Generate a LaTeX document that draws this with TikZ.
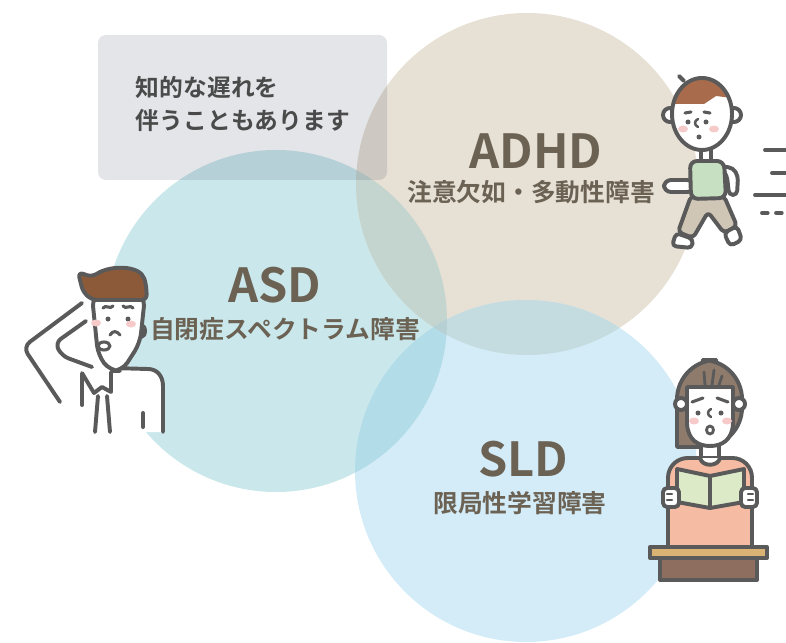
\documentclass[tikz,border=0pt]{standalone}
\usepackage{fontspec}
\setmainfont{Noto Sans CJK JP}[BoldFont=* Bold]

\definecolor{asdC}{HTML}{CAE8EC}
\definecolor{adhdC}{HTML}{E6E0D5}
\definecolor{sldC}{HTML}{D3ECF8}
\definecolor{asdadhdC}{HTML}{C4D5D0}
\definecolor{adhdsldC}{HTML}{C4DBDF}
\definecolor{asdsldC}{HTML}{B2DCE8}
\definecolor{allC}{HTML}{B6D0D4}
\definecolor{boxC}{HTML}{1E2640}
\definecolor{titleC}{HTML}{6B6254}
\definecolor{noteC}{HTML}{4A4A4A}
\definecolor{lineC}{HTML}{5A5A5A}
\definecolor{cheekC}{HTML}{F7CACA}
\definecolor{boyHair}{HTML}{A86C4C}
\definecolor{shirtC}{HTML}{C8E0C2}
\definecolor{pantsC}{HTML}{CFC6B6}
\definecolor{manHair}{HTML}{8C5A38}
\definecolor{girlHair}{HTML}{8F7B6B}
\definecolor{dressC}{HTML}{F6BBA3}
\definecolor{bookC}{HTML}{DCEAC8}
\definecolor{deskTop}{HTML}{D9B274}
\definecolor{deskBase}{HTML}{8E6E5E}

\tikzset{
  outline/.style={draw=lineC, line width=2.8pt, line join=round, line cap=round},
  title/.style={font=\bfseries\fontsize{33.4}{36}\selectfont, text=titleC},
  subtitle/.style={font=\bfseries\fontsize{17.6}{20}\selectfont, text=titleC},
}

\begin{document}
\begin{tikzpicture}[x=0.025cm, y=-0.025cm]
\useasboundingbox (0,0) rectangle (786,642);
\path
(276,321) coordinate (asd)
(527,184) coordinate (adhd)
(526,471) coordinate (sld)
;
% the three circles and their overlaps
\fill[asdC] (asd) circle[radius=171];
\fill[adhdC] (adhd) circle[radius=171];
\fill[sldC] (sld) circle[radius=171];
\begin{scope}
\clip (asd) circle[radius=171];
\fill[asdadhdC] (adhd) circle[radius=171];
\fill[asdsldC] (sld) circle[radius=171];
\end{scope}
\begin{scope}
\clip (adhd) circle[radius=171];
\fill[adhdsldC] (sld) circle[radius=171];
\clip (asd) circle[radius=171];
\fill[allC] (sld) circle[radius=171];
\end{scope}

% note box
\fill[boxC, fill opacity=0.12, rounded corners=0.2cm] (98,35) rectangle (387,180);
\node[anchor=west, align=left, text=noteC, font=\bfseries\fontsize{16.9}{22.8}\selectfont] (note) at (131,104) {知的な遅れを\\伴うこともあります};

\node[title] (adhdT) at (536,151) {ADHD};
\node[subtitle] (adhdS) at (531,192) {注意欠如・多動性障害};
\node[title] (asdT) at (275,285) {ASD};
\node[subtitle] (asdS) at (285,329) {自閉症スペクトラム障害};
\node[title] (sldT) at (523,459) {SLD};
\node[subtitle] (sldS) at (520,503) {限局性学習障害};

% walking boy
\draw[outline, fill=pantsC, rounded corners=3] (691,196) -- (724,196) -- (737,226) -- (724,233) -- (708,212) -- (693,238) -- (678,232) -- cycle;
\draw[outline, fill=white, rounded corners=3] (676,233) -- (693,239) -- (692,248) -- (672,246) -- cycle;
\draw[outline, fill=white, rounded corners=3] (724,233) -- (737,226) -- (742,240) -- (730,246) -- cycle;
\draw[outline, fill=white, rounded corners=3] (720,166) -- (733,168) -- (738,176) -- (737,195) -- (729,195) -- (727,176) -- cycle;
\draw[outline, fill=white, rounded corners=5] (664,180) rectangle (694,192);
\draw[outline, fill=shirtC, rounded corners=5] (690,161) -- (724,161) -- (726,198) -- (691,199) -- cycle;
\draw[outline, fill=white] (701,146) rectangle (711,161);
\draw[outline, fill=white] (670,115) circle[radius=7] (734,115) circle[radius=7];
\fill[white] (702,114) ellipse[x radius=30, y radius=36];
\begin{scope}
\clip (702,114) ellipse[x radius=30, y radius=36];
\fill[boyHair] (665,72) -- (740,72) -- (740,99) -- (716,96) -- (704,104) -- (665,104) -- cycle;
\end{scope}
\draw[outline] (702,114) ellipse[x radius=30, y radius=36];
\draw[outline] (679,76) -- (684,81);
\draw[outline, line width=2.2pt] (685,113) -- (691,112) (704,112) -- (710,113);
\foreach \p in {(688,122),(706,122),(699,137)}
\fill[lineC] \p circle[radius=2.5];
\draw[outline, line width=1.8pt] (698,119) .. controls (694,121) and (694,125) .. (698,127);
\foreach \p in {(683,129),(714,129)}
\fill[cheekC] \p ellipse[x radius=5, y radius=3.5];
% speed lines
\draw[outline] (765,150) -- (786,150) (772,173) -- (786,173) (755,195) -- (786,195);
\draw[outline, dash pattern=on 4pt off 6pt] (762,213) -- (786,213);

% man scratching his head
\fill[white] (60,402) -- (23,347) -- (82,303) -- (90,320) -- (55,343) -- (62,356) -- (90,367) -- (82,392) -- cycle;
\draw[outline, rounded corners=6] (60,402) -- (23,347) -- (82,303);
\draw[outline, rounded corners=5] (86,321) -- (55,343) -- (62,356) -- (92,367);
\fill[white] (80,372) -- (148,369) .. controls (157,369) and (163,376) .. (163,386) -- (163,432) -- (80,432) -- cycle;
\draw[outline] (112,368) -- (148,369) .. controls (157,369) and (163,376) .. (163,386) -- (163,432);
\draw[outline] (82,374) -- (82,405);
\draw[outline] (82,373) -- (94,393) -- (102,387) -- (111,392) -- (111,372);
\draw[outline] (98,396) -- (95,432) (107,396) -- (110,432);
\draw[outline] (143,413) -- (143,427);
\draw[outline, fill=white] (141,331) ellipse[x radius=4, y radius=6];
\draw[outline, fill=white, rounded corners=7] (92,296) -- (98,355) -- (110,371) -- (122,371) -- (140,343) -- (145,296) -- cycle;
\draw[outline, fill=manHair, rounded corners=4] (78,272) -- (92,277) .. controls (110,265) and (140,265) .. (146,284) -- (147,300) -- (92,300) -- (83,292) -- cycle;
\draw[outline, line width=2.2pt] (103,308) .. controls (106,304) and (110,310) .. (113,306) (123,306) .. controls (126,310) and (130,304) .. (133,308);
\foreach \p in {(108,319),(128,319)}
\fill[lineC] \p circle[radius=2.5];
\foreach \p in {(96,323),(131,324)}
\fill[cheekC] \p ellipse[x radius=5, y radius=3.5];
\draw[outline, line width=2.2pt] (110,335) .. controls (113,330) and (117,331) .. (120,335);
\draw[outline, line width=2.2pt] (104,346) ellipse[x radius=6, y radius=4];

% girl reading a book
\draw[outline, fill=girlHair, rounded corners=28] (677,447) -- (677,360) -- (742,360) -- (742,447) [sharp corners] -- cycle;
\draw[outline, fill=white] (681,404) circle[radius=6] (739,404) circle[radius=6];
\draw[outline, fill=white] (701,440) rectangle (719,460);
\draw[outline, fill=white] (687,387) -- (687,424) .. controls (688,440) and (698,446) .. (710,446) .. controls (722,446) and (732,440) .. (733,424) -- (733,387) -- cycle;
\draw[outline, line width=2pt] (704,372) -- (705,385) (714,370) -- (712,385) (722,376) -- (719,385);
\draw[outline, line width=2.2pt] (692,402) -- (703,398) (717,398) -- (728,402);
\foreach \p in {(698,413),(721,413)}
\fill[lineC] \p circle[radius=2.5];
\draw[outline, line width=1.8pt] (711,409) .. controls (707,411) and (707,415) .. (711,417);
\foreach \p in {(694,421),(727,421)}
\fill[cheekC] \p ellipse[x radius=5, y radius=3.5];
\draw[outline, line width=2pt] (710,430) ellipse[x radius=3.5, y radius=4];
\draw[outline, fill=dressC, rounded corners=14] (668,548) -- (668,458) -- (752,458) -- (752,548);
\fill[dressC] (670,540) rectangle (750,548);
\draw[outline, fill=white] (700,458) .. controls (702,467) and (718,467) .. (720,458);
\draw[outline, fill=bookC] (677,469) -- (710,476) -- (710,508) -- (677,502) -- cycle;
\draw[outline, fill=bookC] (710,476) -- (744,469) -- (744,502) -- (710,508) -- cycle;
\draw[outline, fill=white, rounded corners=3] (663,488) rectangle (679,507);
\draw[outline, fill=white, rounded corners=3] (741,488) rectangle (757,507);
\draw[outline, line width=1.6pt] (667,494) -- (672,494) (667,500) -- (672,500) (748,494) -- (753,494) (748,500) -- (753,500);
\draw[outline, fill=deskBase] (660,558) rectangle (757,580);
\draw[outline, fill=deskTop] (650,547) rectangle (767,558);
\end{tikzpicture}
\end{document}
